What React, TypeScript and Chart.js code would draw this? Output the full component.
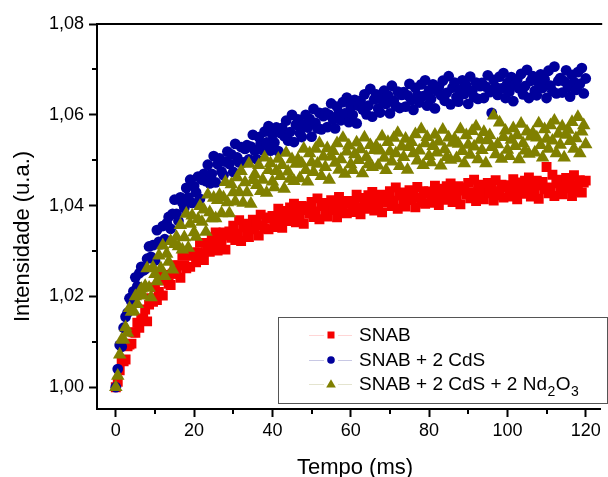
import React, { useEffect, useRef } from "react";
import { Chart, registerables } from "chart.js";
Chart.register(...registerables);

const FONT = "'Liberation Sans', Arial, Helvetica, sans-serif";

// sampling grid: every 0.5 ms from 0 to 120 ms
const times = Array.from({ length: 241 }, (_, i) => i * 0.5);

const snab = [
  1.0000, 1.0012, 1.0037, 1.0059, 1.0057, 1.0061, 1.0090, 1.0094, 1.0096, 1.0121,
  1.0120, 1.0142, 1.0131, 1.0151, 1.0151, 1.0171, 1.0145, 1.0182, 1.0196, 1.0188,
  1.0220, 1.0192, 1.0210, 1.0244, 1.0202, 1.0235, 1.0247, 1.0228, 1.0225, 1.0250,
  1.0269, 1.0250, 1.0268, 1.0241, 1.0290, 1.0269, 1.0262, 1.0290, 1.0265, 1.0290,
  1.0297, 1.0275, 1.0297, 1.0318, 1.0293, 1.0280, 1.0318, 1.0309, 1.0298, 1.0330,
  1.0313, 1.0341, 1.0301, 1.0328, 1.0316, 1.0341, 1.0303, 1.0334, 1.0343, 1.0329,
  1.0356, 1.0324, 1.0338, 1.0368, 1.0322, 1.0352, 1.0360, 1.0338, 1.0331, 1.0353,
  1.0369, 1.0348, 1.0363, 1.0334, 1.0380, 1.0357, 1.0349, 1.0374, 1.0348, 1.0371,
  1.0377, 1.0353, 1.0373, 1.0393, 1.0366, 1.0351, 1.0388, 1.0377, 1.0366, 1.0396,
  1.0378, 1.0404, 1.0363, 1.0388, 1.0375, 1.0399, 1.0360, 1.0390, 1.0397, 1.0382,
  1.0408, 1.0375, 1.0387, 1.0416, 1.0370, 1.0399, 1.0406, 1.0383, 1.0376, 1.0396,
  1.0412, 1.0390, 1.0404, 1.0374, 1.0419, 1.0395, 1.0386, 1.0410, 1.0383, 1.0405,
  1.0410, 1.0386, 1.0405, 1.0424, 1.0396, 1.0381, 1.0417, 1.0406, 1.0393, 1.0423,
  1.0405, 1.0430, 1.0389, 1.0414, 1.0401, 1.0424, 1.0385, 1.0414, 1.0422, 1.0407,
  1.0432, 1.0399, 1.0411, 1.0440, 1.0393, 1.0422, 1.0429, 1.0406, 1.0398, 1.0419,
  1.0434, 1.0412, 1.0426, 1.0396, 1.0441, 1.0417, 1.0407, 1.0432, 1.0404, 1.0427,
  1.0431, 1.0406, 1.0426, 1.0444, 1.0417, 1.0401, 1.0437, 1.0426, 1.0413, 1.0443,
  1.0424, 1.0449, 1.0408, 1.0433, 1.0420, 1.0443, 1.0403, 1.0433, 1.0440, 1.0425,
  1.0450, 1.0416, 1.0429, 1.0457, 1.0410, 1.0439, 1.0446, 1.0422, 1.0414, 1.0435,
  1.0450, 1.0427, 1.0442, 1.0411, 1.0456, 1.0432, 1.0422, 1.0446, 1.0418, 1.0441,
  1.0445, 1.0420, 1.0440, 1.0458, 1.0430, 1.0414, 1.0451, 1.0439, 1.0426, 1.0455,
  1.0437, 1.0462, 1.0420, 1.0445, 1.0432, 1.0455, 1.0415, 1.0444, 1.0452, 1.0436,
  1.0485, 1.0427, 1.0440, 1.0468, 1.0421, 1.0449, 1.0457, 1.0433, 1.0425, 1.0445,
  1.0461, 1.0438, 1.0452, 1.0421, 1.0467, 1.0442, 1.0432, 1.0456, 1.0429, 1.0451, 1.0455,
];

const snabCdS = [
  1.0000, 1.0040, 1.0093, 1.0089, 1.0131, 1.0155, 1.0164, 1.0196, 1.0189, 1.0211,
  1.0242, 1.0222, 1.0251, 1.0265, 1.0257, 1.0260, 1.0283, 1.0310, 1.0287, 1.0313,
  1.0279, 1.0346, 1.0320, 1.0315, 1.0355, 1.0326, 1.0361, 1.0375, 1.0349, 1.0382,
  1.0413, 1.0382, 1.0366, 1.0418, 1.0407, 1.0395, 1.0439, 1.0418, 1.0457, 1.0406,
  1.0443, 1.0429, 1.0464, 1.0415, 1.0457, 1.0470, 1.0454, 1.0490, 1.0449, 1.0470,
  1.0509, 1.0451, 1.0491, 1.0504, 1.0475, 1.0467, 1.0497, 1.0519, 1.0492, 1.0513,
  1.0474, 1.0536, 1.0506, 1.0495, 1.0529, 1.0495, 1.0525, 1.0533, 1.0502, 1.0530,
  1.0556, 1.0521, 1.0502, 1.0551, 1.0537, 1.0522, 1.0563, 1.0539, 1.0575, 1.0521,
  1.0556, 1.0539, 1.0572, 1.0520, 1.0560, 1.0571, 1.0553, 1.0587, 1.0543, 1.0562,
  1.0600, 1.0540, 1.0578, 1.0590, 1.0560, 1.0551, 1.0579, 1.0600, 1.0572, 1.0591,
  1.0552, 1.0613, 1.0582, 1.0570, 1.0604, 1.0568, 1.0597, 1.0605, 1.0573, 1.0600,
  1.0625, 1.0589, 1.0570, 1.0618, 1.0603, 1.0588, 1.0628, 1.0603, 1.0638, 1.0584,
  1.0618, 1.0600, 1.0633, 1.0581, 1.0620, 1.0631, 1.0612, 1.0645, 1.0601, 1.0620,
  1.0657, 1.0596, 1.0634, 1.0645, 1.0614, 1.0605, 1.0633, 1.0653, 1.0624, 1.0643,
  1.0603, 1.0664, 1.0631, 1.0619, 1.0651, 1.0615, 1.0644, 1.0650, 1.0618, 1.0643,
  1.0668, 1.0632, 1.0611, 1.0659, 1.0643, 1.0627, 1.0667, 1.0641, 1.0676, 1.0620,
  1.0654, 1.0635, 1.0667, 1.0614, 1.0653, 1.0662, 1.0643, 1.0675, 1.0631, 1.0648,
  1.0685, 1.0623, 1.0660, 1.0671, 1.0639, 1.0629, 1.0656, 1.0676, 1.0646, 1.0665,
  1.0624, 1.0684, 1.0652, 1.0639, 1.0671, 1.0635, 1.0663, 1.0670, 1.0637, 1.0662,
  1.0687, 1.0650, 1.0604, 1.0677, 1.0661, 1.0644, 1.0684, 1.0658, 1.0692, 1.0637,
  1.0670, 1.0651, 1.0683, 1.0630, 1.0668, 1.0678, 1.0658, 1.0690, 1.0645, 1.0663,
  1.0699, 1.0637, 1.0675, 1.0685, 1.0653, 1.0643, 1.0670, 1.0689, 1.0659, 1.0678,
  1.0637, 1.0697, 1.0664, 1.0652, 1.0706, 1.0647, 1.0675, 1.0681, 1.0649, 1.0674,
  1.0698, 1.0661, 1.0640, 1.0688, 1.0672, 1.0655, 1.0694, 1.0668, 1.0703, 1.0647, 1.0680,
];

const snabCdSNd = [
  1.0000, 1.0025, 1.0072, 1.0105, 1.0105, 1.0132, 1.0120, 1.0174, 1.0166, 1.0169,
  1.0200, 1.0183, 1.0207, 1.0217, 1.0202, 1.0223, 1.0262, 1.0219, 1.0198, 1.0264,
  1.0249, 1.0233, 1.0290, 1.0262, 1.0312, 1.0245, 1.0294, 1.0276, 1.0322, 1.0259,
  1.0315, 1.0331, 1.0310, 1.0357, 1.0303, 1.0330, 1.0382, 1.0307, 1.0360, 1.0378,
  1.0341, 1.0331, 1.0370, 1.0399, 1.0364, 1.0391, 1.0342, 1.0424, 1.0385, 1.0372,
  1.0417, 1.0372, 1.0412, 1.0423, 1.0383, 1.0418, 1.0452, 1.0407, 1.0383, 1.0447,
  1.0429, 1.0409, 1.0462, 1.0430, 1.0476, 1.0406, 1.0451, 1.0429, 1.0492, 1.0404,
  1.0456, 1.0469, 1.0445, 1.0489, 1.0432, 1.0457, 1.0506, 1.0428, 1.0478, 1.0493,
  1.0453, 1.0440, 1.0476, 1.0503, 1.0465, 1.0489, 1.0437, 1.0516, 1.0475, 1.0459,
  1.0502, 1.0454, 1.0492, 1.0502, 1.0460, 1.0493, 1.0525, 1.0478, 1.0453, 1.0515,
  1.0495, 1.0474, 1.0525, 1.0492, 1.0537, 1.0465, 1.0508, 1.0485, 1.0526, 1.0457,
  1.0508, 1.0520, 1.0494, 1.0537, 1.0479, 1.0502, 1.0549, 1.0470, 1.0519, 1.0532,
  1.0491, 1.0478, 1.0513, 1.0539, 1.0500, 1.0524, 1.0471, 1.0550, 1.0507, 1.0491,
  1.0533, 1.0485, 1.0522, 1.0531, 1.0488, 1.0521, 1.0552, 1.0505, 1.0478, 1.0540,
  1.0519, 1.0497, 1.0549, 1.0515, 1.0560, 1.0487, 1.0530, 1.0507, 1.0547, 1.0479,
  1.0529, 1.0540, 1.0515, 1.0557, 1.0499, 1.0521, 1.0568, 1.0489, 1.0537, 1.0551,
  1.0509, 1.0495, 1.0531, 1.0556, 1.0517, 1.0541, 1.0488, 1.0567, 1.0524, 1.0507,
  1.0550, 1.0501, 1.0538, 1.0547, 1.0504, 1.0536, 1.0568, 1.0520, 1.0493, 1.0555,
  1.0534, 1.0512, 1.0564, 1.0530, 1.0574, 1.0502, 1.0545, 1.0522, 1.0562, 1.0493,
  1.0544, 1.0555, 1.0529, 1.0598, 1.0513, 1.0535, 1.0583, 1.0503, 1.0551, 1.0565,
  1.0523, 1.0509, 1.0545, 1.0570, 1.0531, 1.0555, 1.0502, 1.0580, 1.0537, 1.0521,
  1.0563, 1.0514, 1.0552, 1.0560, 1.0517, 1.0550, 1.0581, 1.0533, 1.0506, 1.0568,
  1.0547, 1.0525, 1.0577, 1.0543, 1.0587, 1.0515, 1.0558, 1.0534, 1.0574, 1.0506,
  1.0556, 1.0567, 1.0542, 1.0584, 1.0525, 1.0548, 1.0595, 1.0515, 1.0563, 1.0577, 1.0535,
];

const seriesNames = ["SNAB", "SNAB + 2 CdS", "SNAB + 2 CdS + 2 Nd"];
const xTicks = [0, 20, 40, 60, 80, 100, 120];
const xMinorTicks = [10, 30, 50, 70, 90, 110];
const yTicks = [1.0, 1.02, 1.04, 1.06, 1.08];
const yMinorTicks = [1.01, 1.03, 1.05, 1.07];

const RED = "#f50000";
const BLUE = "#00009c";
const OLIVE = "#808000";

function drawMarker(ctx: CanvasRenderingContext2D, kind: string, x: number, y: number, r: number, color: string) {
  ctx.fillStyle = color;
  ctx.beginPath();
  if (kind === "rect") {
    ctx.rect(x - r, y - r, 2 * r, 2 * r);
  } else if (kind === "circle") {
    ctx.arc(x, y, r, 0, Math.PI * 2);
  } else {
    ctx.moveTo(x, y - r * 1.05);
    ctx.lineTo(x + r * 1.05, y + r * 0.75);
    ctx.lineTo(x - r * 1.05, y + r * 0.75);
    ctx.closePath();
  }
  ctx.fill();
}

const decorPlugin = {
  id: "decor",
  afterDraw(chart: any) {
    const { ctx, chartArea } = chart;
    const { left, right, top, bottom } = chartArea;
    const xs = chart.scales.x;
    const ys = chart.scales.y;
    ctx.save();
    ctx.strokeStyle = "#000";
    ctx.lineWidth = 2;
    ctx.beginPath();
    ctx.moveTo(left - 1, top);
    ctx.lineTo(right + 2, top);
    ctx.stroke();
    ctx.beginPath();
    xMinorTicks.forEach((v) => {
      const px = Math.round(xs.getPixelForValue(v));
      ctx.moveTo(px, bottom);
      ctx.lineTo(px, bottom + 5);
    });
    yMinorTicks.forEach((v) => {
      const py = Math.round(ys.getPixelForValue(v));
      ctx.moveTo(left, py);
      ctx.lineTo(left - 5, py);
    });
    ctx.stroke();

    // axis titles
    ctx.fillStyle = "#000";
    ctx.font = `22px ${FONT}`;
    ctx.textAlign = "center";
    ctx.textBaseline = "alphabetic";
    ctx.fillText("Tempo (ms)", 355, 474);
    ctx.save();
    ctx.translate(29, 236.5);
    ctx.rotate(-Math.PI / 2);
    ctx.fillText("Intensidade (u.a.)", 0, 0);
    ctx.restore();

    // legend
    const bx = 278.5, by = 317.5, bw = 329, bh = 86;
    ctx.fillStyle = "#fff";
    ctx.fillRect(bx, by, bw, bh);
    ctx.strokeStyle = "#555";
    ctx.lineWidth = 1;
    ctx.strokeRect(bx, by, bw, bh);
    const rows = [
      { y: 335, kind: "rect", color: RED, pale: "#ffd6d6", r: 3.5 },
      { y: 360, kind: "circle", color: BLUE, pale: "#c8c8e4", r: 3.8 },
      { y: 384, kind: "tri", color: OLIVE, pale: "#e4e4cf", r: 4.6 },
    ];
    rows.forEach((row, i) => {
      ctx.strokeStyle = row.pale;
      ctx.lineWidth = 1;
      ctx.beginPath();
      ctx.moveTo(309, row.y + 0.5);
      ctx.lineTo(352, row.y + 0.5);
      ctx.stroke();
      ctx.fillStyle = "#fff";
      ctx.fillRect(324, row.y - 6, 14, 13);
      drawMarker(ctx, row.kind, 331, row.y, row.r, row.color);
      ctx.fillStyle = "#000";
      ctx.font = `19px ${FONT}`;
      ctx.textAlign = "left";
      ctx.textBaseline = "middle";
      ctx.fillText(seriesNames[i], 359, row.y + 1);
      if (i === 2) {
        let x = 359 + ctx.measureText(seriesNames[i]).width + 0.5;
        ctx.font = `14px ${FONT}`;
        ctx.fillText("2", x, row.y + 8);
        x += ctx.measureText("2").width + 0.5;
        ctx.font = `19px ${FONT}`;
        ctx.fillText("O", x, row.y + 1);
        x += ctx.measureText("O").width + 0.5;
        ctx.font = `14px ${FONT}`;
        ctx.fillText("3", x, row.y + 8);
      }
    });
    ctx.restore();
  },
};

export default function App() {
  const ref = useRef<HTMLCanvasElement>(null);
  useEffect(() => {
    const mk = (vals: number[]) => times.map((t, i) => ({ x: t, y: vals[i] }));
    const chart = new Chart(ref.current as HTMLCanvasElement, {
      type: "scatter",
      data: {
        datasets: [
          { label: seriesNames[0], data: mk(snab), pointStyle: "rect", pointRadius: 7, backgroundColor: RED, borderWidth: 0, order: 3 } as any,
          { label: seriesNames[1], data: mk(snabCdS), pointStyle: "circle", pointRadius: 5.4, backgroundColor: BLUE, borderWidth: 0, order: 2 } as any,
          { label: seriesNames[2], data: mk(snabCdSNd), pointStyle: "triangle", pointRadius: 7.8, backgroundColor: OLIVE, borderWidth: 0, order: 1 } as any,
        ],
      },
      options: {
        animation: false,
        responsive: false,
        devicePixelRatio: 1,
        layout: { padding: { top: 24, right: 0, left: 0, bottom: 0 } },
        plugins: { legend: { display: false }, tooltip: { enabled: false } },
        scales: {
          x: {
            type: "linear",
            min: -4.8,
            max: 123.7,
            afterBuildTicks: (s: any) => { s.ticks = xTicks.map((v) => ({ value: v })); },
            afterFit: (s: any) => { s.height = 68; },
            ticks: { font: { family: FONT, size: 18 }, color: "#000", padding: 3, maxRotation: 0, autoSkip: false, callback: (v: any) => String(v) },
            grid: { drawOnChartArea: false, tickLength: 8, tickWidth: 2, color: "#000" },
            border: { color: "#000", width: 2 },
          },
          y: {
            type: "linear",
            min: 0.9952,
            max: 1.08,
            afterBuildTicks: (s: any) => { s.ticks = yTicks.map((v) => ({ value: v })); },
            afterFit: (s: any) => { s.width = 97; },
            ticks: { font: { family: FONT, size: 18 }, color: "#000", padding: 5, autoSkip: false, callback: (v: any) => Number(v).toFixed(2).replace(".", ",") },
            grid: { drawOnChartArea: false, tickLength: 8, tickWidth: 2, color: "#000" },
            border: { color: "#000", width: 2 },
          },
        },
      } as any,
      plugins: [decorPlugin],
    });
    return () => chart.destroy();
  }, []);
  return (
    <div style={{ position: "fixed", left: 0, top: 0, width: 608, height: 477, background: "#fff", overflow: "hidden" }}>
      <canvas ref={ref} width={608} height={477} style={{ display: "block" }} />
    </div>
  );
}
